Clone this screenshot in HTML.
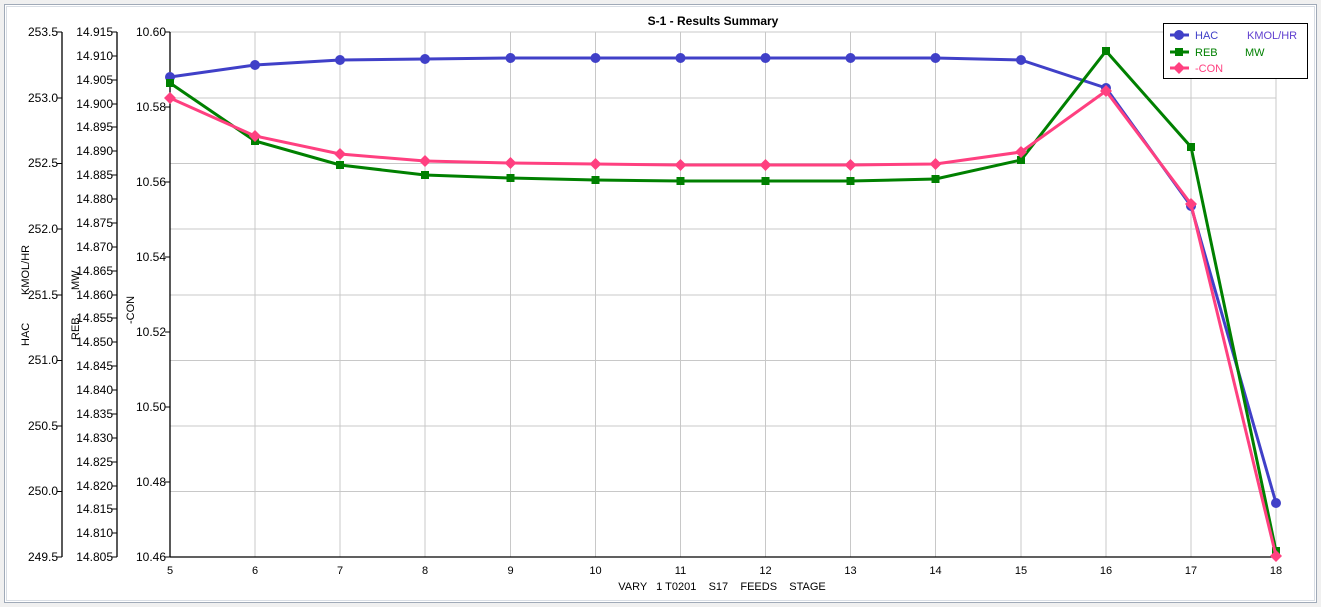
<!DOCTYPE html>
<html><head><style>body{margin:0;background:#fff}svg{display:block;font-family:"Liberation Sans",sans-serif}</style></head><body>
<svg width="1321" height="607" xmlns="http://www.w3.org/2000/svg">
<rect x="0" y="0" width="1321" height="607" fill="#f0f0f0"/>
<rect x="4.5" y="4.5" width="1312" height="598" fill="#fff" stroke="#a0aab8"/>
<rect x="6.5" y="6.5" width="1308" height="594" fill="none" stroke="#d8dde4"/>
<g stroke="#c8c8c8" stroke-width="1">
<line x1="170" y1="98" x2="1276" y2="98"/><line x1="170" y1="163.5" x2="1276" y2="163.5"/><line x1="170" y1="229" x2="1276" y2="229"/><line x1="170" y1="295" x2="1276" y2="295"/><line x1="170" y1="360.5" x2="1276" y2="360.5"/><line x1="170" y1="426" x2="1276" y2="426"/><line x1="170" y1="491.5" x2="1276" y2="491.5"/>
<line x1="255" y1="32" x2="255" y2="557"/><line x1="340" y1="32" x2="340" y2="557"/><line x1="425" y1="32" x2="425" y2="557"/><line x1="510.5" y1="32" x2="510.5" y2="557"/><line x1="595.5" y1="32" x2="595.5" y2="557"/><line x1="680.5" y1="32" x2="680.5" y2="557"/><line x1="765.5" y1="32" x2="765.5" y2="557"/><line x1="850.5" y1="32" x2="850.5" y2="557"/><line x1="935.5" y1="32" x2="935.5" y2="557"/><line x1="1021" y1="32" x2="1021" y2="557"/><line x1="1106" y1="32" x2="1106" y2="557"/><line x1="1191" y1="32" x2="1191" y2="557"/><line x1="1276" y1="32" x2="1276" y2="557"/>
<line x1="170" y1="32" x2="1276" y2="32"/>
</g>
<g stroke="#000" stroke-width="1.3" fill="none">
<line x1="62" y1="32" x2="62" y2="557"/><line x1="117" y1="32" x2="117" y2="557"/><line x1="170" y1="32" x2="170" y2="557"/><line x1="170" y1="557" x2="1276" y2="557"/>
</g>
<g font-size="12" fill="#000" text-anchor="end">
<text x="58" y="36">253.5</text><text x="58" y="102">253.0</text><text x="58" y="167">252.5</text><text x="58" y="233">252.0</text><text x="58" y="299">251.5</text><text x="58" y="364">251.0</text><text x="58" y="430">250.5</text><text x="58" y="495">250.0</text><text x="58" y="561">249.5</text>
<text x="113" y="36">14.915</text><text x="113" y="60">14.910</text><text x="113" y="84">14.905</text><text x="113" y="108">14.900</text><text x="113" y="131">14.895</text><text x="113" y="155">14.890</text><text x="113" y="179">14.885</text><text x="113" y="203">14.880</text><text x="113" y="227">14.875</text><text x="113" y="251">14.870</text><text x="113" y="275">14.865</text><text x="113" y="299">14.860</text><text x="113" y="322">14.855</text><text x="113" y="346">14.850</text><text x="113" y="370">14.845</text><text x="113" y="394">14.840</text><text x="113" y="418">14.835</text><text x="113" y="442">14.830</text><text x="113" y="466">14.825</text><text x="113" y="490">14.820</text><text x="113" y="513">14.815</text><text x="113" y="537">14.810</text><text x="113" y="561">14.805</text>
<text x="166" y="36">10.60</text><text x="166" y="111">10.58</text><text x="166" y="186">10.56</text><text x="166" y="261">10.54</text><text x="166" y="336">10.52</text><text x="166" y="411">10.50</text><text x="166" y="486">10.48</text><text x="166" y="561">10.46</text>
</g>
<g stroke="#000" stroke-width="1">
<path d="M57 32h5M57 98h5M57 163.5h5M57 229h5M57 295h5M57 360.5h5M57 426h5M57 491.5h5M57 557h5"/>
<path d="M112 32h5M112 56h5M112 80h5M112 104h5M112 127h5M112 151h5M112 175h5M112 199h5M112 223h5M112 247h5M112 271h5M112 295h5M112 318h5M112 342h5M112 366h5M112 390h5M112 414h5M112 438h5M112 462h5M112 486h5M112 509h5M112 533h5M112 557h5"/>
<path d="M165 32h5M165 107h5M165 182h5M165 257h5M165 332h5M165 407h5M165 482h5M165 557h5"/>
</g>
<g font-size="11" fill="#000" text-anchor="middle">
<text x="170" y="574">5</text><text x="255" y="574">6</text><text x="340" y="574">7</text><text x="425" y="574">8</text><text x="510.5" y="574">9</text><text x="595.5" y="574">10</text><text x="680.5" y="574">11</text><text x="765.5" y="574">12</text><text x="850.5" y="574">13</text><text x="935.5" y="574">14</text><text x="1021" y="574">15</text><text x="1106" y="574">16</text><text x="1191" y="574">17</text><text x="1276" y="574">18</text>
<text x="722" y="590" xml:space="preserve">VARY   1 T0201    S17    FEEDS    STAGE</text>
<text x="713" y="25" font-weight="bold" font-size="12">S-1 - Results Summary</text>
</g>
<g font-size="11" fill="#000">
<text transform="translate(29,295) rotate(-90)">KMOL/HR</text>
<text transform="translate(29,346) rotate(-90)">HAC</text>
<text transform="translate(79,290) rotate(-90)">MW</text>
<text transform="translate(79,340) rotate(-90)">REB</text>
<text transform="translate(134,324) rotate(-90)">-CON</text>
</g>
<polyline fill="none" stroke="#4040c8" stroke-width="3" points="170,77 255,65 340,60 425,59 510.5,58 595.5,58 680.5,58 765.5,58 850.5,58 935.5,58 1021,60 1106,88 1191,206 1276,503"/>
<g fill="#4040c8"><circle cx="170" cy="77" r="5"/><circle cx="255" cy="65" r="5"/><circle cx="340" cy="60" r="5"/><circle cx="425" cy="59" r="5"/><circle cx="510.5" cy="58" r="5"/><circle cx="595.5" cy="58" r="5"/><circle cx="680.5" cy="58" r="5"/><circle cx="765.5" cy="58" r="5"/><circle cx="850.5" cy="58" r="5"/><circle cx="935.5" cy="58" r="5"/><circle cx="1021" cy="60" r="5"/><circle cx="1106" cy="88" r="5"/><circle cx="1191" cy="206" r="5"/><circle cx="1276" cy="503" r="5"/></g>
<polyline fill="none" stroke="#008000" stroke-width="3" points="170,83 255,141 340,165 425,175 510.5,178 595.5,180 680.5,181 765.5,181 850.5,181 935.5,179 1021,160 1106,51 1191,147 1276,551"/>
<g fill="#008000"><rect x="166" y="79" width="8" height="8"/><rect x="251" y="137" width="8" height="8"/><rect x="336" y="161" width="8" height="8"/><rect x="421" y="171" width="8" height="8"/><rect x="506.5" y="174" width="8" height="8"/><rect x="591.5" y="176" width="8" height="8"/><rect x="676.5" y="177" width="8" height="8"/><rect x="761.5" y="177" width="8" height="8"/><rect x="846.5" y="177" width="8" height="8"/><rect x="931.5" y="175" width="8" height="8"/><rect x="1017" y="156" width="8" height="8"/><rect x="1102" y="47" width="8" height="8"/><rect x="1187" y="143" width="8" height="8"/><rect x="1272" y="547" width="8" height="8"/></g>
<polyline fill="none" stroke="#ff4080" stroke-width="3" points="170,98 255,136 340,154 425,161 510.5,163 595.5,164 680.5,165 765.5,165 850.5,165 935.5,164 1021,152 1106,91 1191,204 1276,556"/>
<g fill="#ff4080">
<path d="M170 92l6 6-6 6-6-6z"/><path d="M255 130l6 6-6 6-6-6z"/><path d="M340 148l6 6-6 6-6-6z"/><path d="M425 155l6 6-6 6-6-6z"/><path d="M510.5 157l6 6-6 6-6-6z"/><path d="M595.5 158l6 6-6 6-6-6z"/><path d="M680.5 159l6 6-6 6-6-6z"/><path d="M765.5 159l6 6-6 6-6-6z"/><path d="M850.5 159l6 6-6 6-6-6z"/><path d="M935.5 158l6 6-6 6-6-6z"/><path d="M1021 146l6 6-6 6-6-6z"/><path d="M1106 85l6 6-6 6-6-6z"/><path d="M1191 198l6 6-6 6-6-6z"/><path d="M1276 550l6 6-6 6-6-6z"/>
</g>
<rect x="1163.5" y="23.5" width="144" height="55" fill="#fff" stroke="#000"/>
<g stroke-width="3"><line x1="1170" y1="35" x2="1189" y2="35" stroke="#4040c8"/><line x1="1170" y1="52" x2="1189" y2="52" stroke="#008000"/><line x1="1170" y1="68" x2="1189" y2="68" stroke="#ff4080"/></g>
<circle cx="1179" cy="35" r="5" fill="#4040c8"/><rect x="1175" y="48" width="8" height="8" fill="#008000"/><path d="M1179 62l6 6-6 6-6-6z" fill="#ff4080"/>
<g font-size="11"><text x="1195" y="39" fill="#4040c8">HAC</text><text x="1247" y="39" fill="#6040d0">KMOL/HR</text><text x="1195" y="56" fill="#008000">REB</text><text x="1245" y="56" fill="#008000">MW</text><text x="1195" y="72" fill="#ff4080">-CON</text></g>
</svg>
</body></html>
